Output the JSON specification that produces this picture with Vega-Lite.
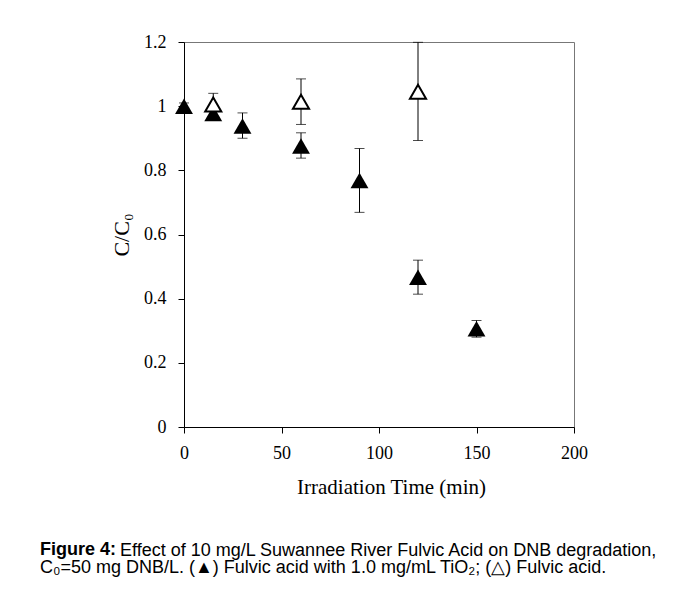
{
  "$schema": "https://vega.github.io/schema/vega-lite/v6.json",
  "width": 390,
  "height": 385,
  "autosize": {"type": "none"},
  "padding": {"left": 184, "top": 42, "right": 106, "bottom": 170},
  "background": "white",
  "title": {
    "text": "Figure 4:",
    "subtitle": [
      "\u200b\u00a0\u00a0\u00a0\u00a0\u00a0\u00a0\u00a0\u00a0\u00a0\u00a0\u00a0\u00a0\u00a0\u00a0\u00a0\u00a0Effect of 10 mg/L Suwannee River Fulvic Acid on DNB degradation,",
      "C₀=50 mg DNB/L. (▲) Fulvic acid with 1.0 mg/mL TiO₂; (△) Fulvic acid."
    ],
    "orient": "bottom",
    "anchor": "start",
    "frame": "group",
    "dx": -144,
    "offset": 44,
    "font": "Liberation Sans",
    "fontSize": 18,
    "fontWeight": "bold",
    "color": "black",
    "subtitleFont": "Liberation Sans",
    "subtitleFontSize": 18,
    "subtitleColor": "black",
    "subtitleLineHeight": 17,
    "lineHeight": 17,
    "subtitlePadding": -17
  },
  "config": {
    "view": {"stroke": "#777", "strokeWidth": 1},
    "axis": {
      "labelFont": "Liberation Serif",
      "titleFont": "Liberation Serif",
      "labelColor": "black",
      "titleColor": "black",
      "domainColor": "black",
      "tickColor": "black",
      "grid": false,
      "tickSize": 6,
      "labelFontSize": 18,
      "labelFlush": false,
      "titleFontWeight": "normal"
    }
  },
  "data": {
    "values": [
      {"series": "TiO2", "time": 0, "cc0": 1.0, "lo": 0.99, "hi": 1.01},
      {"series": "TiO2", "time": 15, "cc0": 0.977, "lo": 0.96, "hi": 0.995},
      {"series": "TiO2", "time": 30, "cc0": 0.938, "lo": 0.9, "hi": 0.979},
      {"series": "TiO2", "time": 60, "cc0": 0.876, "lo": 0.838, "hi": 0.917},
      {"series": "TiO2", "time": 90, "cc0": 0.768, "lo": 0.669, "hi": 0.868},
      {"series": "TiO2", "time": 120, "cc0": 0.467, "lo": 0.414, "hi": 0.52},
      {"series": "TiO2", "time": 150, "cc0": 0.306, "lo": 0.28, "hi": 0.332},
      {"series": "FA", "time": 15, "cc0": 1.005, "lo": 0.97, "hi": 1.04},
      {"series": "FA", "time": 60, "cc0": 1.014, "lo": 0.943, "hi": 1.085},
      {"series": "FA", "time": 120, "cc0": 1.045, "lo": 0.893, "hi": 1.199}
    ]
  },
  "encoding": {
    "x": {
      "field": "time",
      "type": "quantitative",
      "scale": {"domain": [0, 200], "nice": false},
      "axis": {
        "values": [0, 50, 100, 150, 200],
        "title": "Irradiation Time (min)",
        "titleFontSize": 21,
        "labelPadding": 11,
        "titlePadding": 14,
        "titleX": 207
      }
    }
  },
  "layer": [
    {
      "mark": {"type": "rule", "color": "black", "strokeWidth": 1},
      "encoding": {
        "y": {"field": "lo", "type": "quantitative"},
        "y2": {"field": "hi"}
      }
    },
    {
      "mark": {"type": "tick", "orient": "horizontal", "size": 10, "thickness": 1, "color": "black"},
      "encoding": {"y": {"field": "lo", "type": "quantitative"}}
    },
    {
      "mark": {"type": "tick", "orient": "horizontal", "size": 10, "thickness": 1, "color": "black"},
      "encoding": {"y": {"field": "hi", "type": "quantitative"}}
    },
    {
      "transform": [{"filter": "datum.series === 'TiO2'"}],
      "mark": {"type": "point", "shape": "triangle-up", "filled": true, "color": "black", "size": 320, "opacity": 1},
      "encoding": {
        "y": {
          "field": "cc0",
          "type": "quantitative",
          "scale": {"domain": [0, 1.2], "nice": false},
          "axis": {
            "values": [0, 0.2, 0.4, 0.6, 0.8, 1.0, 1.2],
            "format": "~g",
            "title": "C/C₀",
            "titleFontSize": 22,
            "labelPadding": 12,
            "titlePadding": 10
          }
        }
      }
    },
    {
      "transform": [{"filter": "datum.series === 'FA'"}],
      "mark": {"type": "point", "shape": "triangle-up", "filled": true, "fill": "white", "stroke": "black", "strokeWidth": 2, "size": 260, "opacity": 1, "fillOpacity": 1},
      "encoding": {
        "y": {"field": "cc0", "type": "quantitative"}
      }
    }
  ]
}
